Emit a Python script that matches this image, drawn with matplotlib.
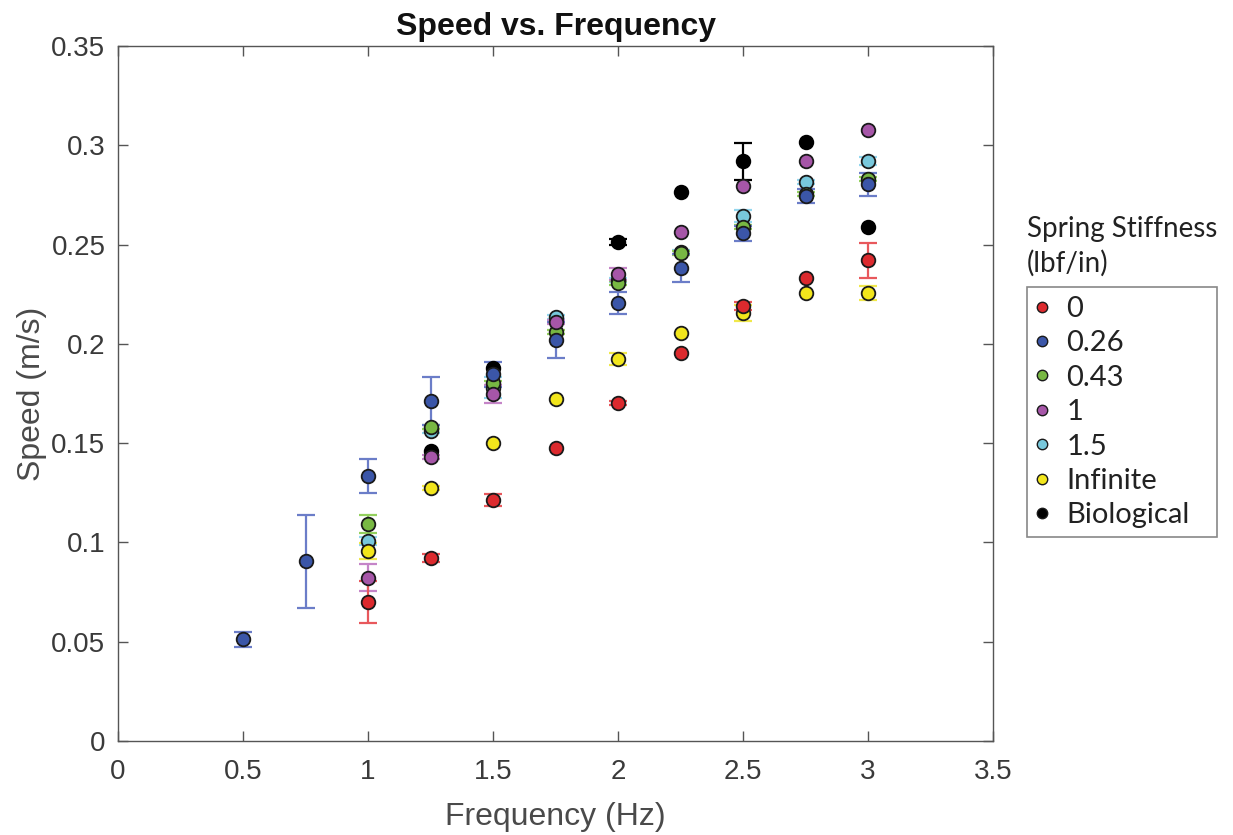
import matplotlib
matplotlib.use("Agg")
import matplotlib.pyplot as plt
from matplotlib.lines import Line2D
from matplotlib.patches import Rectangle

# ---- data ----
freq9 = [1.0, 1.25, 1.5, 1.75, 2.0, 2.25, 2.5, 2.75, 3.0]

red_x = freq9
red_y = [0.070, 0.092, 0.1215, 0.1475, 0.170, 0.1952, 0.2192, 0.2331, 0.2422]
red_e = [0.0107, 0.002, 0.003, 0.0, 0.001, 0.0, 0.002, 0.0, 0.0088]

blue_x = [0.5, 0.75, 1.0, 1.25, 1.5, 1.75, 2.0, 2.25, 2.5, 2.75, 3.0]
blue_y = [0.0512, 0.0905, 0.1334, 0.1712, 0.1846, 0.2019, 0.2205, 0.2383, 0.2556, 0.2743, 0.2803]
blue_e = [0.0039, 0.0235, 0.0087, 0.012, 0.0065, 0.0092, 0.0057, 0.007, 0.0039, 0.0036, 0.0058]

green_x = freq9
green_y = [0.1094, 0.1583, 0.1805, 0.2058, 0.2305, 0.2459, 0.259, 0.2755, 0.283]
green_e = [0.0045, 0.001, 0.001, 0.001, 0.001, 0.001, 0.001, 0.001, 0.001]

purple_x = freq9
purple_y = [0.0821, 0.1432, 0.1746, 0.2111, 0.2350, 0.2563, 0.2795, 0.292, 0.3077]
purple_e = [0.0068, 0.001, 0.0045, 0.001, 0.003, 0.0, 0.0, 0.0, 0.0]

cyan_x = freq9
cyan_y = [0.1007, 0.1561, 0.178, 0.2133, 0.232, 0.2465, 0.2645, 0.2816, 0.2919]
cyan_e = [0.002, 0.001, 0.0055, 0.001, 0.001, 0.001, 0.003, 0.001, 0.002]

yellow_x = freq9
yellow_y = [0.0955, 0.1276, 0.1499, 0.172, 0.1923, 0.2056, 0.2154, 0.2257, 0.2257]
yellow_e = [0.004, 0.001, 0.0, 0.0, 0.003, 0.0, 0.004, 0.0, 0.0035]

black_x = [1.25, 1.5, 2.0, 2.25, 2.5, 2.75, 3.0]
black_y = [0.146, 0.1878, 0.2515, 0.2766, 0.292, 0.3018, 0.2587]
black_e = [0.0, 0.0, 0.0015, 0.0, 0.0093, 0.0, 0.0]

labels = ["0", "0.26", "0.43", "1", "1.5", "Infinite", "Biological"]
xticks = [0, 0.5, 1, 1.5, 2, 2.5, 3, 3.5]
yticks = [0, 0.05, 0.1, 0.15, 0.2, 0.25, 0.3, 0.35]

series = {
    "0": (red_x, red_y, red_e, "#dc2a2e", "#e8585c"),
    "0.26": (blue_x, blue_y, blue_e, "#3b56a8", "#6b7dc8"),
    "0.43": (green_x, green_y, green_e, "#78b843", "#93d05e"),
    "1": (purple_x, purple_y, purple_e, "#a656a8", "#c585c8"),
    "1.5": (cyan_x, cyan_y, cyan_e, "#78c8dc", "#92d6ee"),
    "Infinite": (yellow_x, yellow_y, yellow_e, "#f2e61c", "#f0e84a"),
    "Biological": (black_x, black_y, black_e, "#000000", "#000000"),
}
draw_order = ["Biological", "1.5", "0.43", "1", "0.26", "Infinite", "0"]

W, H = 1233, 835
fig = plt.figure(figsize=(W / 100, H / 100), dpi=100)
ax = fig.add_axes([118 / W, 1 - 741 / H, (993 - 118) / W, (741 - 46) / H])

for name in draw_order:
    x, y, e, c, ec = series[name]
    ex = [xi for xi, ei in zip(x, e) if ei > 0]
    ey = [yi for yi, ei in zip(y, e) if ei > 0]
    ee = [ei for ei in e if ei > 0]
    ax.errorbar(ex, ey, yerr=ee, fmt="none", ecolor=ec, elinewidth=1.6,
                capsize=6.5, capthick=1.6, zorder=2)
    edge = "#000000" if name == "Biological" else "#1a1a1a"
    ax.plot(x, y, "o", ms=9.8, mfc=c, mec=edge, mew=1.3, zorder=3)

ax.set_xlim(0, 3.5)
ax.set_ylim(0, 0.35)
ax.set_xticks(xticks)
ax.set_xticklabels([f"{t:g}" for t in xticks])
ax.set_yticks(yticks)
ax.set_yticklabels([f"{t:g}" for t in yticks])

axcol = "#3a3a3a"
for s in ax.spines.values():
    s.set_color("#555555")
    s.set_linewidth(1.0)
ax.tick_params(direction="in", length=7, width=1, colors="#555555",
               top=True, right=True, labelsize=20, labelcolor=axcol)
ax.tick_params(axis="x", pad=13)
ax.tick_params(axis="y", pad=9)
for lbl in ax.get_xticklabels() + ax.get_yticklabels():
    lbl.set_family("Liberation Sans")

ax.set_xlabel("Frequency (Hz)", fontsize=23, color="#4a4a4a",
              family="Liberation Sans", labelpad=12)
ax.set_ylabel("Speed (m/s)", fontsize=23, color="#4a4a4a",
              family="Liberation Sans", labelpad=3)
ax.set_title("Speed vs. Frequency", fontsize=23, fontweight="bold",
             family="Liberation Sans", color="#111111", pad=8)

handles = [Line2D([], [], ls="none", marker="o", ms=7.5, mfc=series[l][3],
                  mec="#1a1a1a", mew=1.0) for l in labels]
leg = fig.legend(handles, labels, loc="upper left",
                 bbox_to_anchor=(1027 / W, 1 - 287 / H),
                 borderaxespad=0, frameon=False,
                 handletextpad=0.6, handlelength=0.45,
                 labelspacing=0.29, borderpad=0.3,
                 prop={"family": "Lato", "size": 21})
for t in leg.get_texts():
    t.set_color("#222222")

fig.patches.append(Rectangle((1027 / W, 1 - 537 / H), 190 / W, 250 / H,
                             transform=fig.transFigure, fill=False,
                             edgecolor="#888888", linewidth=1.2))

fig.text(1027 / W, 1 - 229 / H, "Spring Stiffness", fontsize=20,
         family="Lato", color="#222222", va="center", ha="left")
fig.text(1027 / W, 1 - 263 / H, "(lbf/in)", fontsize=20,
         family="Lato", color="#222222", va="center", ha="left")

fig.savefig("out.png", dpi=100)
